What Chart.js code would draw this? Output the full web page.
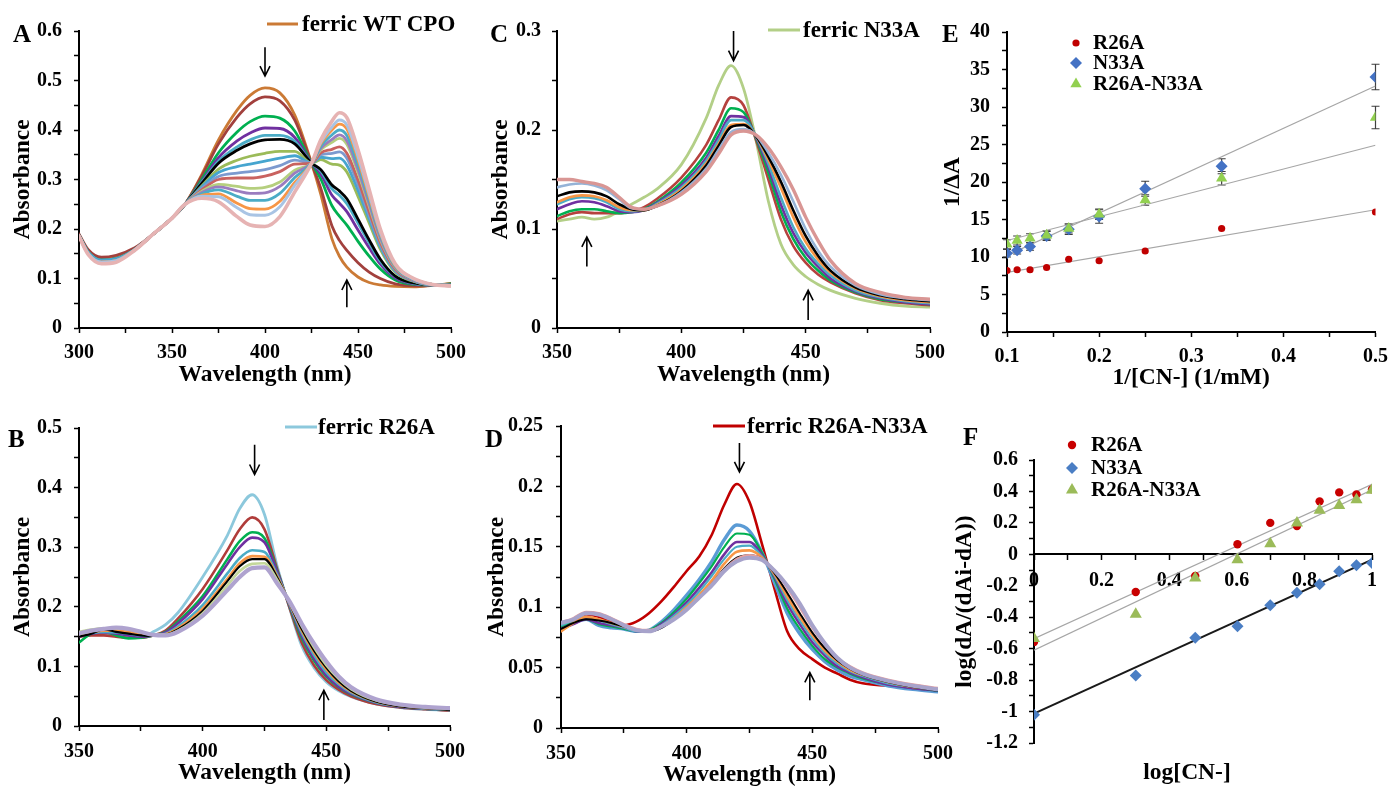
<!DOCTYPE html>
<html>
<head>
<meta charset="utf-8">
<title>Cyanide binding to CPO variants</title>
<script src="https://cdn.jsdelivr.net/npm/chart.js@4.4.1/dist/chart.umd.min.js"></script>
<style>
  html, body { margin: 0; padding: 0; background: #fff; }
  body { position: relative; width: 1397px; height: 787px; overflow: hidden; }
  canvas { position: absolute; }
</style>
</head>
<body>
<canvas id="panel-a"></canvas>
<canvas id="panel-c"></canvas>
<canvas id="panel-e"></canvas>
<canvas id="panel-b"></canvas>
<canvas id="panel-d"></canvas>
<canvas id="panel-f"></canvas>
<script>
'use strict';

// ---------- Panel A: ferric WT CPO + cyanide (absorbance vs wavelength) ----------
const wlA = [300, 305, 312, 320, 330, 340, 350, 357, 366, 375, 385, 392, 400, 408, 416, 425, 430, 436, 440, 444, 450, 456, 462, 470, 480, 490, 500];
const specA01 = [0.188, 0.155, 0.14, 0.143, 0.16, 0.19, 0.222, 0.25, 0.31, 0.38, 0.44, 0.47, 0.485, 0.475, 0.43, 0.333, 0.27, 0.18, 0.145, 0.123, 0.103, 0.092, 0.087, 0.084, 0.083, 0.086, 0.09];
const specA02 = [0.19, 0.158, 0.143, 0.147, 0.162, 0.19, 0.221, 0.25, 0.307, 0.372, 0.426, 0.453, 0.467, 0.459, 0.42, 0.333, 0.282, 0.206, 0.177, 0.157, 0.132, 0.113, 0.1, 0.089, 0.085, 0.086, 0.089];
const specA03 = [0.187, 0.153, 0.137, 0.14, 0.159, 0.19, 0.222, 0.25, 0.30, 0.354, 0.396, 0.417, 0.428, 0.424, 0.398, 0.333, 0.301, 0.247, 0.226, 0.208, 0.175, 0.145, 0.119, 0.097, 0.088, 0.087, 0.089];
const specA04 = [0.187, 0.153, 0.137, 0.14, 0.159, 0.19, 0.222, 0.25, 0.296, 0.344, 0.378, 0.394, 0.404, 0.403, 0.385, 0.333, 0.311, 0.268, 0.252, 0.235, 0.198, 0.162, 0.129, 0.101, 0.089, 0.087, 0.088];
const specA05 = [0.187, 0.153, 0.137, 0.14, 0.159, 0.19, 0.222, 0.25, 0.294, 0.337, 0.366, 0.38, 0.389, 0.389, 0.377, 0.333, 0.317, 0.281, 0.268, 0.251, 0.212, 0.172, 0.135, 0.104, 0.09, 0.087, 0.088];
const specA06 = [0.187, 0.153, 0.137, 0.14, 0.159, 0.19, 0.222, 0.25, 0.292, 0.333, 0.359, 0.372, 0.38, 0.381, 0.372, 0.333, 0.32, 0.289, 0.277, 0.261, 0.22, 0.178, 0.139, 0.105, 0.091, 0.087, 0.088];
const specA07 = [0.187, 0.153, 0.137, 0.14, 0.159, 0.19, 0.222, 0.25, 0.287, 0.321, 0.339, 0.347, 0.353, 0.357, 0.357, 0.333, 0.34, 0.331, 0.329, 0.315, 0.266, 0.212, 0.159, 0.113, 0.094, 0.087, 0.087];
const specA08 = [0.187, 0.153, 0.137, 0.14, 0.159, 0.19, 0.222, 0.25, 0.285, 0.314, 0.326, 0.331, 0.337, 0.343, 0.348, 0.333, 0.345, 0.342, 0.343, 0.329, 0.278, 0.22, 0.164, 0.115, 0.095, 0.087, 0.087];
const specA09 = [0.186, 0.15, 0.133, 0.136, 0.158, 0.19, 0.222, 0.25, 0.282, 0.306, 0.313, 0.316, 0.32, 0.328, 0.339, 0.333, 0.35, 0.353, 0.356, 0.343, 0.29, 0.228, 0.169, 0.117, 0.095, 0.087, 0.086];
const specA10 = [0.186, 0.15, 0.133, 0.136, 0.158, 0.19, 0.222, 0.25, 0.279, 0.3, 0.303, 0.303, 0.307, 0.316, 0.331, 0.333, 0.354, 0.361, 0.366, 0.353, 0.299, 0.235, 0.173, 0.119, 0.096, 0.088, 0.086];
const specA11 = [0.186, 0.15, 0.133, 0.136, 0.158, 0.19, 0.222, 0.25, 0.276, 0.29, 0.286, 0.282, 0.284, 0.295, 0.319, 0.333, 0.36, 0.375, 0.383, 0.371, 0.314, 0.246, 0.179, 0.122, 0.097, 0.088, 0.086];
const specA12 = [0.186, 0.15, 0.133, 0.136, 0.158, 0.19, 0.222, 0.25, 0.274, 0.285, 0.277, 0.272, 0.273, 0.286, 0.313, 0.333, 0.363, 0.381, 0.39, 0.378, 0.32, 0.251, 0.182, 0.123, 0.097, 0.088, 0.086];
const specA13 = [0.186, 0.15, 0.133, 0.136, 0.158, 0.19, 0.222, 0.25, 0.271, 0.279, 0.266, 0.258, 0.258, 0.272, 0.304, 0.333, 0.367, 0.39, 0.4, 0.389, 0.329, 0.258, 0.187, 0.124, 0.098, 0.088, 0.086];
const specA14 = [0.186, 0.15, 0.133, 0.136, 0.158, 0.19, 0.222, 0.25, 0.268, 0.271, 0.252, 0.241, 0.24, 0.256, 0.294, 0.333, 0.372, 0.4, 0.412, 0.402, 0.34, 0.265, 0.191, 0.126, 0.099, 0.088, 0.085];
const specA15 = [0.186, 0.15, 0.133, 0.136, 0.158, 0.19, 0.222, 0.25, 0.266, 0.265, 0.243, 0.229, 0.228, 0.245, 0.288, 0.333, 0.375, 0.406, 0.42, 0.41, 0.347, 0.271, 0.194, 0.128, 0.099, 0.088, 0.085];
const specA16 = [0.185, 0.148, 0.13, 0.133, 0.157, 0.19, 0.222, 0.25, 0.262, 0.255, 0.225, 0.208, 0.205, 0.225, 0.275, 0.333, 0.38, 0.418, 0.435, 0.425, 0.36, 0.28, 0.2, 0.13, 0.1, 0.088, 0.085];
// arrows: [wavelength, tail absorbance, tip absorbance]
const arrowsA = [[400, 0.567, 0.509], [444, 0.042, 0.097]];

// ---------- Panel B: ferric R26A ----------
const wlB = [350, 355, 360, 365, 370, 375, 380, 385, 390, 400, 410, 415, 420, 425, 430, 435, 440, 445, 450, 455, 460, 470, 480, 490, 500];
const specB1 = [0.155, 0.158, 0.155, 0.152, 0.15, 0.148, 0.158, 0.17, 0.19, 0.25, 0.32, 0.365, 0.388, 0.355, 0.27, 0.2, 0.135, 0.098, 0.074, 0.059, 0.049, 0.037, 0.031, 0.028, 0.026];
const specB2 = [0.15, 0.152, 0.152, 0.15, 0.148, 0.148, 0.152, 0.16, 0.18, 0.23, 0.295, 0.33, 0.35, 0.33, 0.265, 0.2, 0.14, 0.102, 0.077, 0.061, 0.05, 0.037, 0.031, 0.028, 0.026];
const specB3 = [0.14, 0.155, 0.158, 0.152, 0.147, 0.148, 0.152, 0.158, 0.175, 0.218, 0.28, 0.31, 0.325, 0.315, 0.262, 0.203, 0.148, 0.11, 0.083, 0.065, 0.053, 0.039, 0.032, 0.029, 0.027];
const specB4 = [0.15, 0.155, 0.157, 0.155, 0.152, 0.15, 0.152, 0.157, 0.172, 0.213, 0.272, 0.3, 0.316, 0.308, 0.26, 0.204, 0.152, 0.113, 0.085, 0.066, 0.054, 0.039, 0.032, 0.029, 0.027];
const specB5 = [0.152, 0.156, 0.158, 0.157, 0.155, 0.152, 0.152, 0.155, 0.167, 0.203, 0.256, 0.282, 0.295, 0.292, 0.255, 0.206, 0.157, 0.119, 0.09, 0.07, 0.056, 0.04, 0.033, 0.029, 0.027];
const specB6 = [0.153, 0.157, 0.16, 0.16, 0.158, 0.154, 0.152, 0.154, 0.164, 0.197, 0.247, 0.273, 0.285, 0.284, 0.252, 0.207, 0.161, 0.124, 0.095, 0.073, 0.058, 0.041, 0.033, 0.03, 0.028];
const specB7 = [0.15, 0.155, 0.162, 0.158, 0.155, 0.152, 0.151, 0.153, 0.162, 0.193, 0.243, 0.268, 0.28, 0.28, 0.25, 0.207, 0.163, 0.127, 0.098, 0.075, 0.059, 0.041, 0.033, 0.03, 0.027];
const specB8 = [0.158, 0.162, 0.164, 0.164, 0.162, 0.157, 0.153, 0.153, 0.16, 0.189, 0.236, 0.26, 0.272, 0.273, 0.246, 0.208, 0.168, 0.132, 0.102, 0.079, 0.062, 0.043, 0.035, 0.031, 0.029];
const specB9 = [0.155, 0.16, 0.163, 0.165, 0.163, 0.158, 0.153, 0.152, 0.158, 0.185, 0.228, 0.25, 0.265, 0.266, 0.24, 0.21, 0.172, 0.138, 0.108, 0.083, 0.065, 0.045, 0.036, 0.032, 0.03];
const arrowsB = [[421, 0.472, 0.422], [449, 0.01, 0.06]];

// ---------- Panel C: ferric N33A ----------
const wlC = [350, 355, 360, 365, 370, 375, 380, 385, 390, 400, 410, 415, 420, 425, 430, 435, 440, 445, 450, 455, 460, 470, 480, 490, 500];
const specC1 = [0.108, 0.11, 0.112, 0.11, 0.112, 0.118, 0.125, 0.132, 0.14, 0.165, 0.212, 0.245, 0.265, 0.242, 0.19, 0.128, 0.085, 0.064, 0.052, 0.044, 0.038, 0.03, 0.025, 0.022, 0.021];
const specC2 = [0.11, 0.115, 0.117, 0.116, 0.116, 0.116, 0.118, 0.122, 0.13, 0.152, 0.185, 0.21, 0.233, 0.225, 0.19, 0.15, 0.11, 0.083, 0.066, 0.054, 0.046, 0.035, 0.028, 0.025, 0.023];
const specC3 = [0.113, 0.118, 0.12, 0.12, 0.118, 0.116, 0.117, 0.12, 0.127, 0.147, 0.177, 0.2, 0.222, 0.218, 0.192, 0.157, 0.118, 0.09, 0.071, 0.058, 0.048, 0.036, 0.029, 0.026, 0.024];
const specC4 = [0.12, 0.125, 0.128, 0.127, 0.123, 0.118, 0.117, 0.119, 0.126, 0.144, 0.172, 0.194, 0.214, 0.213, 0.193, 0.162, 0.125, 0.096, 0.076, 0.062, 0.05, 0.037, 0.03, 0.026, 0.024];
const specC5 = [0.125, 0.13, 0.132, 0.131, 0.127, 0.12, 0.118, 0.119, 0.125, 0.142, 0.169, 0.19, 0.21, 0.21, 0.194, 0.166, 0.132, 0.102, 0.08, 0.065, 0.053, 0.038, 0.031, 0.027, 0.025];
const specC6 = [0.127, 0.132, 0.134, 0.133, 0.129, 0.122, 0.119, 0.119, 0.124, 0.14, 0.166, 0.186, 0.205, 0.206, 0.194, 0.17, 0.142, 0.112, 0.087, 0.069, 0.056, 0.04, 0.032, 0.028, 0.026];
const specC7 = [0.133, 0.137, 0.138, 0.137, 0.133, 0.125, 0.12, 0.119, 0.123, 0.138, 0.164, 0.184, 0.203, 0.205, 0.194, 0.173, 0.148, 0.119, 0.093, 0.073, 0.058, 0.041, 0.033, 0.029, 0.027];
const specC8 = [0.142, 0.145, 0.146, 0.144, 0.139, 0.13, 0.121, 0.12, 0.123, 0.137, 0.161, 0.18, 0.198, 0.201, 0.195, 0.177, 0.155, 0.128, 0.1, 0.078, 0.062, 0.043, 0.034, 0.03, 0.028];
const specC9 = [0.15, 0.15, 0.148, 0.146, 0.142, 0.132, 0.122, 0.12, 0.123, 0.135, 0.158, 0.176, 0.195, 0.199, 0.195, 0.182, 0.163, 0.14, 0.112, 0.088, 0.068, 0.045, 0.036, 0.031, 0.029];
const arrowsC = [[421, 0.3, 0.27], [362, 0.062, 0.092], [451, 0.008, 0.038]];

// ---------- Panel D: ferric R26A-N33A ----------
const wlD = [350, 355, 360, 365, 370, 375, 380, 385, 390, 395, 400, 405, 410, 415, 420, 425, 430, 435, 440, 445, 450, 455, 460, 465, 470, 480, 490, 500];
const specD1 = [0.082, 0.088, 0.094, 0.092, 0.088, 0.085, 0.088, 0.095, 0.105, 0.117, 0.13, 0.142, 0.16, 0.185, 0.202, 0.187, 0.152, 0.115, 0.08, 0.065, 0.057, 0.05, 0.045, 0.04, 0.037, 0.035, 0.033, 0.031];
const specD2 = [0.083, 0.087, 0.09, 0.085, 0.083, 0.082, 0.08, 0.081, 0.088, 0.098, 0.11, 0.123, 0.138, 0.156, 0.168, 0.163, 0.145, 0.12, 0.095, 0.078, 0.065, 0.055, 0.048, 0.043, 0.04, 0.035, 0.032, 0.03];
const specD3 = [0.084, 0.088, 0.09, 0.086, 0.084, 0.082, 0.08, 0.081, 0.087, 0.096, 0.107, 0.12, 0.134, 0.15, 0.161, 0.16, 0.145, 0.123, 0.099, 0.082, 0.068, 0.057, 0.05, 0.045, 0.041, 0.036, 0.033, 0.031];
const specD4 = [0.082, 0.086, 0.09, 0.087, 0.085, 0.083, 0.08, 0.08, 0.086, 0.094, 0.104, 0.116, 0.129, 0.144, 0.154, 0.154, 0.143, 0.125, 0.103, 0.086, 0.071, 0.06, 0.051, 0.046, 0.042, 0.036, 0.033, 0.031];
const specD5 = [0.085, 0.089, 0.092, 0.089, 0.086, 0.083, 0.08, 0.08, 0.085, 0.093, 0.102, 0.113, 0.126, 0.14, 0.15, 0.151, 0.142, 0.126, 0.106, 0.089, 0.074, 0.062, 0.053, 0.047, 0.043, 0.037, 0.034, 0.031];
const specD6 = [0.08, 0.087, 0.092, 0.09, 0.087, 0.084, 0.081, 0.08, 0.084, 0.091, 0.1, 0.11, 0.122, 0.136, 0.146, 0.147, 0.141, 0.127, 0.109, 0.092, 0.077, 0.064, 0.055, 0.048, 0.044, 0.038, 0.034, 0.032];
const specD7 = [0.082, 0.087, 0.09, 0.089, 0.087, 0.084, 0.081, 0.08, 0.083, 0.09, 0.098, 0.108, 0.119, 0.132, 0.141, 0.143, 0.14, 0.128, 0.112, 0.095, 0.079, 0.066, 0.056, 0.049, 0.044, 0.038, 0.034, 0.031];
const specD8 = [0.087, 0.091, 0.096, 0.095, 0.091, 0.086, 0.082, 0.081, 0.084, 0.09, 0.098, 0.108, 0.119, 0.131, 0.14, 0.143, 0.14, 0.13, 0.116, 0.1, 0.083, 0.069, 0.058, 0.051, 0.046, 0.04, 0.036, 0.033];
const specD9 = [0.087, 0.09, 0.095, 0.094, 0.09, 0.085, 0.081, 0.08, 0.084, 0.09, 0.098, 0.108, 0.118, 0.13, 0.138, 0.141, 0.139, 0.13, 0.118, 0.103, 0.085, 0.07, 0.058, 0.05, 0.045, 0.039, 0.035, 0.032];
const arrowsD = [[421, 0.236, 0.212], [449, 0.023, 0.046]];

// ---------- Panel E: double reciprocal plot ----------
const invCN = [0.1, 0.111, 0.125, 0.143, 0.167, 0.2, 0.25, 0.333, 0.5];
const invDA_R26A = [8.2, 8.3, 8.3, 8.6, 9.7, 9.5, 10.8, 13.8, 16.0];
const invDA_N33A = [10.5, 10.9, 11.4, 12.8, 13.7, 15.4, 19.1, 22.1, 34.0];
const invDA_double = [11.7, 12.2, 12.5, 12.9, 13.8, 15.7, 17.6, 20.5, 28.6];
const errE_N33A = [0.5, 0.5, 0.5, 0.6, 0.7, 0.9, 1.0, 1.0, 1.7];
const errE_double = [0.6, 0.6, 0.6, 0.6, 0.6, 0.7, 0.7, 0.9, 1.5];
const fitE_x = [0.1, 0.5];
const fitE_R26A = [7.96, 16.3];
const fitE_N33A = [10.2, 32.8];
const fitE_double = [12.2, 24.9];

// ---------- Panel F: Hill plot ----------
const logCN = [0, 0.301, 0.477, 0.602, 0.699, 0.778, 0.845, 0.903, 0.954, 1];
const hill_R26A = [-0.557, -0.24, -0.138, 0.064, 0.2, 0.18, 0.337, 0.394, 0.381, 0.413];
const hill_N33A = [-1.02, -0.77, -0.53, -0.458, -0.324, -0.244, -0.19, -0.108, -0.07, -0.055];
const hill_double = [-0.536, -0.381, -0.15, -0.034, 0.068, 0.2, 0.28, 0.31, 0.347, 0.407];
const fitF_x = [0, 1];
const fitF_R26A = [-0.536, 0.445];
const fitF_N33A = [-1.013, -0.034];
const fitF_double = [-0.61, 0.41];

// ---------- styles ----------
const SERIF = "'Liberation Serif', 'Times New Roman', serif";
const colorsA = ['#CB7A35', '#A2403D', '#00B050', '#7030A0', '#4BACC6', '#000000', '#9BBB59', '#46A5CF',
                 '#7C9ACF', '#C9625F', '#B5CF7E', '#9A7CBF', '#4BACC6', '#F79646', '#A9C4E4', '#E6B3B3'];
const widthsA = [2.8, 2.8, 2.8, 2.8, 2.8, 2.8, 2.8, 2.8, 2.8, 2.8, 2.8, 2.8, 2.8, 2.8, 3.0, 3.6];
const colorsB = ['#8CC8DC', '#B03C3A', '#00B050', '#7030A0', '#4BACC6', '#F79646', '#000000', '#C4D79B', '#AFA3CF'];
const widthsB = [2.8, 2.6, 2.6, 2.6, 2.6, 2.6, 2.2, 2.6, 4.2];
const colorsC = ['#B3CF87', '#B5413E', '#00B050', '#7030A0', '#4BACC6', '#F79646', '#000000', '#95B3D7', '#D99694'];
const widthsC = [2.8, 2.6, 2.6, 2.6, 2.6, 2.6, 2.6, 2.6, 3.4];
const colorsD = ['#C00000', '#5B9BD5', '#00B050', '#7030A0', '#4BACC6', '#F79646', '#000000', '#E6A0A0', '#A7A3CB'];
const widthsD = [2.6, 3.4, 2.2, 2.6, 2.2, 2.6, 2.0, 2.6, 4.0];

// ---------- helpers ----------
function toPoints(xs, ys) {
    return xs.map(function(x, i) { return { x: x, y: ys[i] }; });
}

function labelEvery(step, digits) {
    return function(value) {
        const k = value / step;
        if (Math.abs(k - Math.round(k)) > 1e-6) {
            return '';
        }
        return String(+value.toFixed(digits));
    };
}

function axis(o) {
    const cfg = {
        type: 'linear',
        min: o.min,
        max: o.max,
        position: o.position,
        ticks: {
            stepSize: o.step,
            autoSkip: false,
            maxRotation: 0,
            minRotation: 0,
            padding: o.pad,
            color: '#000',
            font: { family: SERIF, size: 20, weight: 'bold' },
            callback: labelEvery(o.labelStep, o.digits)
        },
        grid: { display: true, drawOnChartArea: false, drawTicks: true, tickLength: 5, tickColor: '#000', tickWidth: 1.5 },
        border: { display: true, color: '#000', width: 2 },
        title: {
            display: !!o.title,
            text: o.title || '',
            color: '#000',
            padding: 0,
            font: { family: SERIF, size: 23.5, weight: 'bold' }
        }
    };
    if (o.size) {
        cfg.afterFit = function(scale) {
            if (scale.isHorizontal()) {
                scale.height = o.size;
            } else {
                scale.width = o.size;
            }
        };
    }
    return cfg;
}

// place a canvas so the plot area lands on the given page box
function placeCanvas(id, geo) {
    const c = document.getElementById(id);
    const left = geo.plot[0] - geo.yW - geo.padL;
    const top = geo.plot[1] - geo.padT;
    const w = geo.plot[2] + geo.padR - left;
    const h = geo.plot[3] + geo.xH + geo.padB - top;
    c.width = w;
    c.height = h;
    c.style.left = left + 'px';
    c.style.top = top + 'px';
    c.style.width = w + 'px';
    c.style.height = h + 'px';
    return { canvas: c, ox: left, oy: top };
}

function drawArrow(ctx, x, yTail, yTip) {
    const dir = yTip > yTail ? 1 : -1;
    ctx.beginPath();
    ctx.moveTo(x, yTail);
    ctx.lineTo(x, yTip);
    ctx.moveTo(x - 5, yTip - dir * 10);
    ctx.lineTo(x, yTip);
    ctx.lineTo(x + 5, yTip - dir * 10);
    ctx.stroke();
}

function drawMarker(ctx, style, x, y, r, color) {
    ctx.fillStyle = color;
    ctx.beginPath();
    if (style === 'circle') {
        ctx.arc(x, y, r, 0, Math.PI * 2);
    } else if (style === 'rectRot') {
        ctx.moveTo(x, y - r);
        ctx.lineTo(x + r, y);
        ctx.lineTo(x, y + r);
        ctx.lineTo(x - r, y);
        ctx.closePath();
    } else {
        ctx.moveTo(x, y - r);
        ctx.lineTo(x + r * 0.866, y + r / 2);
        ctx.lineTo(x - r * 0.866, y + r / 2);
        ctx.closePath();
    }
    ctx.fill();
}

// letters, legend text and arrows drawn on top of each panel
function decorPlugin(place, deco) {
    return {
        id: 'decor',
        afterDraw: function(chart) {
            const ctx = chart.ctx;
            const ox = place.ox, oy = place.oy;
            ctx.save();
            ctx.fillStyle = '#000';
            ctx.font = 'bold 25px ' + SERIF;
            ctx.textAlign = 'left';
            ctx.textBaseline = 'alphabetic';
            ctx.fillText(deco.letter, deco.letterAt[0] - ox, deco.letterAt[1] - oy);

            if (deco.line) {
                const L = deco.line;
                ctx.strokeStyle = L.color;
                ctx.lineWidth = 3;
                ctx.beginPath();
                ctx.moveTo(L.x1 - ox, L.y - oy);
                ctx.lineTo(L.x2 - ox, L.y - oy);
                ctx.stroke();
                ctx.fillStyle = '#000';
                ctx.font = 'bold 23px ' + SERIF;
                ctx.textBaseline = 'middle';
                ctx.fillText(L.text, L.textX - ox, L.y + 1 - oy);
            }

            if (deco.markers) {
                ctx.font = 'bold 21px ' + SERIF;
                ctx.textBaseline = 'middle';
                deco.markers.forEach(function(m) {
                    drawMarker(ctx, m.style, m.x - ox, m.y - oy, m.r, m.color);
                    ctx.fillStyle = '#000';
                    ctx.fillText(m.text, m.textX - ox, m.y + 1 - oy);
                });
            }

            if (deco.arrows) {
                const xs = chart.scales.x, ys = chart.scales.y;
                ctx.strokeStyle = '#000';
                ctx.lineWidth = 1.6;
                deco.arrows.forEach(function(a) {
                    drawArrow(ctx, xs.getPixelForValue(a[0]), ys.getPixelForValue(a[1]), ys.getPixelForValue(a[2]));
                });
            }

            if (deco.xTitle) {
                ctx.fillStyle = '#000';
                ctx.font = 'bold 23.5px ' + SERIF;
                ctx.textAlign = 'center';
                ctx.textBaseline = 'middle';
                ctx.fillText(deco.xTitle.text, deco.xTitle.x - ox, deco.xTitle.y - oy);
            }
            ctx.restore();
        }
    };
}

const errorBarPlugin = {
    id: 'errorBars',
    beforeDatasetsDraw: function(chart) {
        const ctx = chart.ctx;
        const ys = chart.scales.y;
        ctx.save();
        ctx.strokeStyle = '#3F3F3F';
        ctx.lineWidth = 1.2;
        chart.data.datasets.forEach(function(ds, i) {
            if (!ds.errorBars) {
                return;
            }
            const meta = chart.getDatasetMeta(i);
            meta.data.forEach(function(pt, j) {
                const v = ds.data[j].y, e = ds.errorBars[j];
                const y1 = ys.getPixelForValue(v + e), y2 = ys.getPixelForValue(v - e);
                ctx.beginPath();
                ctx.moveTo(pt.x, y1); ctx.lineTo(pt.x, y2);
                ctx.moveTo(pt.x - 4, y1); ctx.lineTo(pt.x + 4, y1);
                ctx.moveTo(pt.x - 4, y2); ctx.lineTo(pt.x + 4, y2);
                ctx.stroke();
            });
        });
        ctx.restore();
    }
};

function baseOptions(geo) {
    return {
        responsive: false,
        animation: false,
        devicePixelRatio: 1,
        layout: { padding: { left: geo.padL, right: geo.padR, top: geo.padT, bottom: geo.padB } },
        plugins: { legend: { display: false }, tooltip: { enabled: false } }
    };
}

function spectrumPanel(id, geo, wl, curves, colors, widths, xAxis, yAxis, deco) {
    const place = placeCanvas(id, geo);
    const n = curves.length;
    const datasets = curves.map(function(vals, i) {
        return {
            data: toPoints(wl, vals),
            borderColor: colors[i],
            borderWidth: widths[i],
            pointRadius: 0,
            cubicInterpolationMode: 'monotone',
            borderJoinStyle: 'round',
            borderCapStyle: 'round',
            fill: false,
            order: n - i
        };
    });
    const options = baseOptions(geo);
    options.scales = { x: axis(xAxis), y: axis(yAxis) };
    return new Chart(place.canvas, {
        type: 'line',
        data: { datasets: datasets },
        options: options,
        plugins: [decorPlugin(place, deco)]
    });
}

function scatterSet(xs, ys, style, r, color, order, errors) {
    const ds = {
        data: toPoints(xs, ys),
        pointStyle: style,
        pointRadius: r,
        backgroundColor: color,
        borderColor: color,
        borderWidth: 0,
        showLine: false,
        order: order
    };
    if (errors) {
        ds.errorBars = errors;
    }
    return ds;
}

function fitSet(xs, ys, color, width) {
    return {
        data: toPoints(xs, ys),
        showLine: true,
        borderColor: color,
        borderWidth: width,
        pointRadius: 0,
        order: 10
    };
}

// ---------- layout (page pixels of each plot area) ----------
const geoA = { plot: [79, 31, 452, 328], yW: 70, xH: 61, padL: 4, padR: 22, padT: 26, padB: 4 };
const geoC = { plot: [557, 31, 931, 328], yW: 70, xH: 61, padL: 4, padR: 22, padT: 26, padB: 4 };
const geoE = { plot: [1007, 32, 1380, 332], yW: 68, xH: 60, padL: 4, padR: 16, padT: 26, padB: 4 };
const geoB = { plot: [79, 428, 452, 726], yW: 70, xH: 61, padL: 4, padR: 22, padT: 26, padB: 4 };
const geoD = { plot: [561, 426, 940, 728], yW: 78, xH: 61, padL: 4, padR: 22, padT: 26, padB: 4 };
const geoF = { plot: [1034, 460, 1372, 743], yW: 83, xH: 0, padL: 4, padR: 20, padT: 40, padB: 44 };

// ---------- build ----------
spectrumPanel('panel-a', geoA, wlA,
    [specA01, specA02, specA03, specA04, specA05, specA06, specA07, specA08,
     specA09, specA10, specA11, specA12, specA13, specA14, specA15, specA16],
    colorsA, widthsA,
    { min: 300, max: 500, step: 25, labelStep: 50, digits: 0, pad: 8, size: geoA.xH, position: 'bottom', title: 'Wavelength (nm)' },
    { min: 0, max: 0.6, step: 0.05, labelStep: 0.1, digits: 1, pad: 12, size: geoA.yW, position: 'left', title: 'Absorbance' },
    { letter: 'A', letterAt: [13, 42],
      line: { color: colorsA[0], x1: 267, x2: 298, y: 24, textX: 302, text: 'ferric WT CPO' },
      arrows: arrowsA });

spectrumPanel('panel-c', geoC, wlC,
    [specC1, specC2, specC3, specC4, specC5, specC6, specC7, specC8, specC9],
    colorsC, widthsC,
    { min: 350, max: 500, step: 25, labelStep: 50, digits: 0, pad: 8, size: geoC.xH, position: 'bottom', title: 'Wavelength (nm)' },
    { min: 0, max: 0.3, step: 0.05, labelStep: 0.1, digits: 1, pad: 11, size: geoC.yW, position: 'left', title: 'Absorbance' },
    { letter: 'C', letterAt: [490, 42],
      line: { color: colorsC[0], x1: 768, x2: 800, y: 30, textX: 803, text: 'ferric N33A' },
      arrows: arrowsC });

spectrumPanel('panel-b', geoB, wlB,
    [specB1, specB2, specB3, specB4, specB5, specB6, specB7, specB8, specB9],
    colorsB, widthsB,
    { min: 350, max: 500, step: 25, labelStep: 50, digits: 0, pad: 9, size: geoB.xH, position: 'bottom', title: 'Wavelength (nm)' },
    { min: 0, max: 0.5, step: 0.05, labelStep: 0.1, digits: 1, pad: 12, size: geoB.yW, position: 'left', title: 'Absorbance' },
    { letter: 'B', letterAt: [8, 447],
      line: { color: colorsB[0], x1: 285, x2: 317, y: 427, textX: 318, text: 'ferric R26A' },
      arrows: arrowsB });

spectrumPanel('panel-d', geoD, wlD,
    [specD1, specD2, specD3, specD4, specD5, specD6, specD7, specD8, specD9],
    colorsD, widthsD,
    { min: 350, max: 500, step: 25, labelStep: 50, digits: 0, pad: 9, size: geoD.xH, position: 'bottom', title: 'Wavelength (nm)' },
    { min: 0, max: 0.25, step: 0.025, labelStep: 0.05, digits: 2, pad: 13, size: geoD.yW, position: 'left', title: 'Absorbance' },
    { letter: 'D', letterAt: [485, 447],
      line: { color: colorsD[0], x1: 713, x2: 745, y: 426, textX: 747, text: 'ferric R26A-N33A' },
      arrows: arrowsD });

// panel E
(function() {
    const place = placeCanvas('panel-e', geoE);
    const options = baseOptions(geoE);
    options.scales = {
        x: axis({ min: 0.1, max: 0.5, step: 0.05, labelStep: 0.1, digits: 1, pad: 8, size: geoE.xH, position: 'bottom', title: '1/[CN-] (1/mM)' }),
        y: axis({ min: 0, max: 40, step: 2.5, labelStep: 5, digits: 0, pad: 12, size: geoE.yW, position: 'left', title: '1/ΔA' })
    };
    new Chart(place.canvas, {
        type: 'scatter',
        data: {
            datasets: [
                fitSet(fitE_x, fitE_R26A, '#A6A6A6', 1.2),
                fitSet(fitE_x, fitE_N33A, '#A6A6A6', 1.2),
                fitSet(fitE_x, fitE_double, '#A6A6A6', 1.2),
                scatterSet(invCN, invDA_R26A, 'circle', 3.6, '#C00000', 3),
                scatterSet(invCN, invDA_N33A, 'rectRot', 6, '#4472C4', 2, errE_N33A),
                scatterSet(invCN, invDA_double, 'triangle', 6.5, '#92D050', 1, errE_double)
            ]
        },
        options: options,
        plugins: [errorBarPlugin, decorPlugin(place, {
            letter: 'E', letterAt: [942, 42],
            markers: [
                { style: 'circle', r: 3.6, color: '#C00000', x: 1076, y: 43, textX: 1093, text: 'R26A' },
                { style: 'rectRot', r: 6, color: '#4472C4', x: 1076, y: 63, textX: 1093, text: 'N33A' },
                { style: 'triangle', r: 6.5, color: '#92D050', x: 1076, y: 84, textX: 1093, text: 'R26A-N33A' }
            ]
        })]
    });
})();

// panel F
(function() {
    const place = placeCanvas('panel-f', geoF);
    const options = baseOptions(geoF);
    options.scales = {
        x: axis({ min: 0, max: 1, step: 0.1, labelStep: 0.2, digits: 1, pad: 9, position: { y: 0 } }),
        y: axis({ min: -1.2, max: 0.6, step: 0.1, labelStep: 0.2, digits: 1, pad: 11, size: geoF.yW, position: 'left', title: 'log(dA/(dAi-dA))' })
    };
    new Chart(place.canvas, {
        type: 'scatter',
        data: {
            datasets: [
                fitSet(fitF_x, fitF_R26A, '#A6A6A6', 1.2),
                fitSet(fitF_x, fitF_double, '#A6A6A6', 1.2),
                fitSet(fitF_x, fitF_N33A, '#1A1A1A', 1.8),
                scatterSet(logCN, hill_R26A, 'circle', 4.2, '#C80000', 3),
                scatterSet(logCN, hill_N33A, 'rectRot', 6, '#4A7EC4', 2),
                scatterSet(logCN, hill_double, 'triangle', 7, '#9BBB59', 1)
            ]
        },
        options: options,
        plugins: [decorPlugin(place, {
            letter: 'F', letterAt: [963, 445],
            markers: [
                { style: 'circle', r: 4.2, color: '#C80000', x: 1072, y: 445, textX: 1091, text: 'R26A' },
                { style: 'rectRot', r: 6, color: '#4A7EC4', x: 1072, y: 468, textX: 1091, text: 'N33A' },
                { style: 'triangle', r: 7, color: '#9BBB59', x: 1072, y: 490, textX: 1091, text: 'R26A-N33A' }
            ],
            xTitle: { text: 'log[CN-]', x: 1187, y: 773 }
        })]
    });
})();
</script>
</body>
</html>
